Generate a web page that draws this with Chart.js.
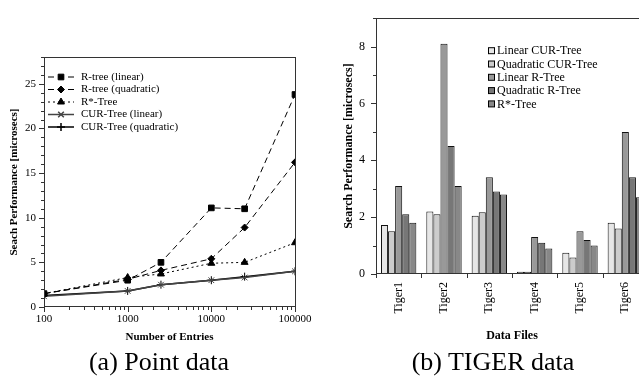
<!DOCTYPE html>
<html>
<head>
<meta charset="utf-8">
<script src="https://cdn.jsdelivr.net/npm/chart.js@4/dist/chart.umd.min.js"></script>
<style>
body { margin: 0; width: 639px; height: 383px; overflow: hidden; background: #fff; position: relative; font-family: "Liberation Serif", serif; }
#wrapA { position: absolute; left: 0; top: 0; width: 320px; height: 345px; }
#wrapB { position: absolute; left: 320px; top: 0; width: 340px; height: 345px; }
.cap { position: absolute; top: 344px; width: 240px; font-size: 26px; line-height: 36px; color: #000; text-align: center; white-space: nowrap; }
</style>
</head>
<body>
<div id="wrapA"><canvas id="pointChart"></canvas></div>
<div id="wrapB"><canvas id="tigerChart"></canvas></div>
<div class="cap" style="left:39px">(a) Point data</div>
<div class="cap" style="left:373px">(b) TIGER data</div>
<script>
// (a) point data
const entries = [100, 1000, 2500, 10000, 25000, 100000];
const rtreeLinear = [1.5, 3.0, 5.0, 11.1, 11.0, 23.8];
const rtreeQuadratic = [1.5, 3.1, 4.1, 5.4, 8.9, 16.2];
const rstarTree = [1.5, 3.3, 3.7, 4.9, 5.0, 7.2];
const curLinear = [1.2, 1.8, 2.5, 3.0, 3.3, 4.0];
const curQuadratic = [1.3, 1.8, 2.5, 3.0, 3.4, 4.0];

// (b) TIGER data
const tigerFiles = ["Tiger1", "Tiger2", "Tiger3", "Tiger4", "Tiger5", "Tiger6"];
const linearCur = [1.72, 2.2, 2.05, 0.08, 0.75, 1.8];
const quadraticCur = [1.5, 2.1, 2.17, 0.08, 0.58, 1.6];
const linearR = [3.1, 8.1, 3.4, 1.3, 1.5, 5.0];
const quadraticR = [2.1, 4.5, 2.9, 1.1, 1.2, 3.4];
const rstarTiger = [1.8, 3.1, 2.8, 0.9, 1.0, 2.7];

Chart.defaults.font.family = '"Liberation Serif", "Times New Roman", serif';
Chart.defaults.color = "#000";

const toPoints = arr => entries.map((x, i) => ({ x: x, y: arr[i] }));

// frame + tick marks (major long, minor short)
const axisMarks = {
    id: "axisMarks",
    afterDraw(chart) {
        const ctx = chart.ctx;
        const a = chart.chartArea;
        ctx.save();
        ctx.strokeStyle = "#333";
        ctx.lineWidth = 1;
        ctx.strokeRect(Math.round(a.left) + 0.5, Math.round(a.top) + 0.5,
            Math.round(a.right - a.left), Math.round(a.bottom - a.top) - 1);

        const ys = chart.scales.y;
        ys.ticks.forEach(t => {
            const py = Math.round(ys.getPixelForValue(t.value)) + 0.5;
            const len = t.label !== "" ? 5 : 3;
            ctx.beginPath();
            ctx.moveTo(a.left - len, py);
            ctx.lineTo(a.left, py);
            ctx.stroke();
        });

        const xs = chart.scales.x;
        if (xs.type === "logarithmic") {
            xs.ticks.forEach(t => {
                const px = Math.round(xs.getPixelForValue(t.value)) + 0.5;
                const len = t.label !== "" ? 5 : 3;
                ctx.beginPath();
                ctx.moveTo(px, a.bottom);
                ctx.lineTo(px, a.bottom + len);
                ctx.stroke();
            });
        } else {
            const step = xs.getPixelForTick(1) - xs.getPixelForTick(0);
            for (let i = 0; i <= xs.ticks.length; i++) {
                const px = Math.round(xs.getPixelForTick(0) + (i - 0.5) * step) + 0.5;
                ctx.beginPath();
                ctx.moveTo(px, a.bottom);
                ctx.lineTo(px, a.bottom + 4);
                ctx.stroke();
            }
        }
        ctx.restore();
    }
};

// legend with line samples, inside the plot
const lineLegend = {
    id: "lineLegend",
    afterDraw(chart) {
        const ctx = chart.ctx;
        const a = chart.chartArea;
        ctx.save();
        chart.data.datasets.forEach((ds, i) => {
            const y = a.top + 20 + i * 12.5;
            ctx.strokeStyle = ds.borderColor;
            ctx.lineWidth = ds.borderWidth;
            ctx.setLineDash(ds.borderDash || []);
            ctx.beginPath();
            ctx.moveTo(a.left + 4, y);
            ctx.lineTo(a.left + 30, y);
            ctx.stroke();
            ctx.setLineDash([]);
            Chart.helpers.drawPoint(ctx, {
                pointStyle: ds.pointStyle,
                radius: ds.pointRadius,
                borderWidth: 1
            }, a.left + 17, y);
            ctx.fillStyle = "#000";
            ctx.font = '11px "Liberation Serif"';
            ctx.textBaseline = "middle";
            ctx.fillText(ds.label, a.left + 37, y);
        });
        ctx.restore();
    }
};

// legend with small boxes, inside the plot
const boxLegend = {
    id: "boxLegend",
    afterDraw(chart) {
        const ctx = chart.ctx;
        const a = chart.chartArea;
        ctx.save();
        chart.data.datasets.forEach((ds, i) => {
            const y = a.top + 33 + i * 13.3;
            ctx.fillStyle = ds.backgroundColor;
            ctx.fillRect(a.left + 112.5, y - 3.5, 6, 6);
            ctx.strokeStyle = "#000";
            ctx.lineWidth = 1;
            ctx.strokeRect(a.left + 112.5, y - 3.5, 6, 6);
            ctx.fillStyle = "#000";
            ctx.font = '12px "Liberation Serif"';
            ctx.textBaseline = "middle";
            ctx.fillText(ds.label, a.left + 121, y);
        });
        ctx.restore();
    }
};

function lineSet(label, data, dash, style, radius, color, width) {
    return {
        label: label,
        data: toPoints(data),
        borderColor: color,
        backgroundColor: color,
        borderWidth: width,
        borderDash: dash,
        pointStyle: style,
        pointRadius: radius,
        pointBorderWidth: 1,
        pointBackgroundColor: color,
        pointBorderColor: color,
        tension: 0
    };
}

new Chart(document.getElementById("pointChart"), {
    type: "line",
    data: {
        datasets: [
            lineSet("R-tree (linear)", rtreeLinear, [6, 4], "rect", 4, "#000", 1),
            lineSet("R-tree (quadratic)", rtreeQuadratic, [6, 4], "rectRot", 3.5, "#000", 1),
            lineSet("R*-Tree", rstarTree, [2, 3], "triangle", 4, "#000", 1),
            lineSet("CUR-Tree (linear)", curLinear, [], "crossRot", 4, "#444", 1.5),
            lineSet("CUR-Tree (quadratic)", curQuadratic, [], "cross", 4, "#000", 1.5)
        ]
    },
    options: {
        responsive: true,
        maintainAspectRatio: false,
        animation: false,
        events: [],
        layout: { padding: { top: 57, right: 25, left: 0, bottom: 0 } },
        plugins: { legend: { display: false }, tooltip: { enabled: false } },
        scales: {
            x: {
                type: "logarithmic",
                min: 100,
                max: 100000,
                afterFit(scale) { scale.height = 38; },
                grid: { display: false, drawTicks: false, tickLength: 0 },
                border: { display: false },
                ticks: {
                    autoSkip: false,
                    maxRotation: 0,
                    padding: 6,
                    font: { size: 11 },
                    callback: v => [100, 1000, 10000, 100000].includes(v) ? String(v) : ""
                },
                title: {
                    display: true,
                    text: "Number of Entries",
                    font: { size: 11, weight: "bold" },
                    padding: { top: 0, bottom: 1 }
                }
            },
            y: {
                min: 0,
                max: 28,
                afterFit(scale) { scale.width = 44; },
                grid: { display: false, drawTicks: false, tickLength: 0 },
                border: { display: false },
                ticks: {
                    stepSize: 1,
                    autoSkip: false,
                    padding: 8,
                    font: { size: 11 },
                    callback: v => v % 5 === 0 ? String(v) : ""
                },
                title: {
                    display: true,
                    text: "Seach Performance [microsecs]",
                    font: { size: 11, weight: "bold" },
                    padding: { top: 8, bottom: 0 }
                }
            }
        }
    },
    plugins: [axisMarks, lineLegend]
});

function barSet(label, data, color) {
    return {
        label: label,
        data: data,
        backgroundColor: color,
        borderColor: "#111",
        borderWidth: 1,
        barPercentage: 1,
        categoryPercentage: 0.78
    };
}

new Chart(document.getElementById("tigerChart"), {
    type: "bar",
    data: {
        labels: tigerFiles,
        datasets: [
            barSet("Linear CUR-Tree", linearCur, "#e6e6e6"),
            barSet("Quadratic CUR-Tree", quadraticCur, "#cccccc"),
            barSet("Linear R-Tree", linearR, "#999999"),
            barSet("Quadratic R-Tree", quadraticR, "#777777"),
            barSet("R*-Tree", rstarTiger, "#888888")
        ]
    },
    options: {
        responsive: true,
        maintainAspectRatio: false,
        animation: false,
        events: [],
        layout: { padding: { top: 7, right: 12, left: 0, bottom: 0 } },
        plugins: { legend: { display: false }, tooltip: { enabled: false } },
        scales: {
            x: {
                afterFit(scale) { scale.height = 71; },
                grid: { display: false, drawTicks: false, tickLength: 0 },
                border: { display: false },
                ticks: {
                    autoSkip: false,
                    minRotation: 90,
                    maxRotation: 90,
                    padding: 8,
                    font: { size: 12 }
                },
                title: {
                    display: true,
                    text: "Data Files",
                    font: { size: 12, weight: "bold" },
                    padding: { top: 0, bottom: 2 }
                }
            },
            y: {
                min: 0,
                max: 9,
                afterFit(scale) { scale.width = 56; },
                grid: { display: false, drawTicks: false, tickLength: 0 },
                border: { display: false },
                ticks: {
                    stepSize: 1,
                    autoSkip: false,
                    padding: 11,
                    font: { size: 12 },
                    callback: v => v % 2 === 0 ? String(v) : ""
                },
                title: {
                    display: true,
                    text: "Search Performance [microsecs]",
                    font: { size: 12, weight: "bold" },
                    padding: { top: 22, bottom: 0 }
                }
            }
        }
    },
    plugins: [axisMarks, boxLegend]
});
</script>
</body>
</html>
